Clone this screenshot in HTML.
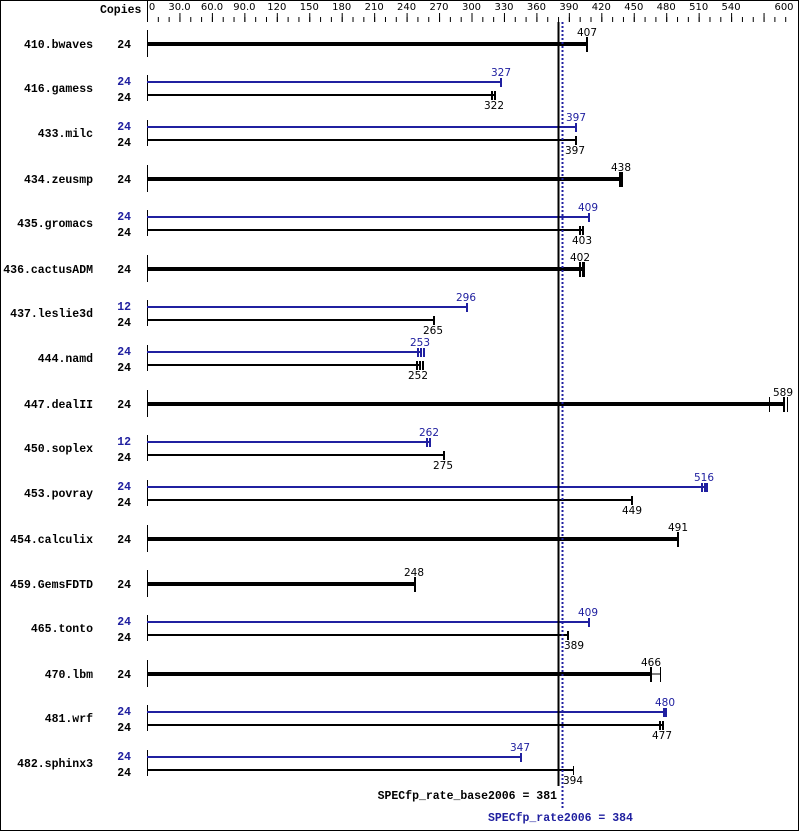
<!DOCTYPE html>
<html><head><meta charset="utf-8"><style>
html,body{margin:0;padding:0;background:#fff}
svg{display:block}
.n{font-family:"Liberation Mono","DejaVu Sans Mono",monospace;font-weight:bold;font-size:11.5px}
.v{font-family:"DejaVu Sans","Liberation Sans",sans-serif;font-size:10.5px}
.ax{font-family:"DejaVu Sans","Liberation Sans",sans-serif;font-size:10px}
</style></head><body>
<svg width="799" height="831" viewBox="0 0 799 831" xmlns="http://www.w3.org/2000/svg">
<rect x="0.5" y="0.5" width="798" height="830" fill="#fff" stroke="#000"/>
<text class="n" x="100" y="13">Copies</text>
<line x1="147.5" y1="0" x2="147.5" y2="22" stroke="#000"/>
<line x1="147" y1="19.5" x2="796" y2="19.5" stroke="#000" stroke-width="5" stroke-dasharray="1 9.817"/>
<line x1="147" y1="17.5" x2="796" y2="17.5" stroke="#000" stroke-width="9" stroke-dasharray="1 31.45"/>
<g class="ax" text-anchor="middle">
<text x="152" y="10">0</text><text x="179.5" y="10">30.0</text><text x="212" y="10">60.0</text><text x="244.4" y="10">90.0</text><text x="276.8" y="10">120</text><text x="309.3" y="10">150</text><text x="341.7" y="10">180</text><text x="374.2" y="10">210</text><text x="406.6" y="10">240</text><text x="439" y="10">270</text><text x="471.5" y="10">300</text><text x="504" y="10">330</text><text x="536.4" y="10">360</text><text x="568.9" y="10">390</text><text x="601.3" y="10">420</text><text x="633.8" y="10">450</text><text x="666.2" y="10">480</text><text x="698.7" y="10">510</text><text x="731.1" y="10">540</text><text x="784" y="10">600</text>
</g>

<g class="n" text-anchor="end">
<text x="93" y="48">410.bwaves</text><text x="131" y="48">24</text>
<text x="93" y="92">416.gamess</text><text x="131" y="85" fill="#2020a0">24</text><text x="131" y="101">24</text>
<text x="93" y="137">433.milc</text><text x="131" y="130" fill="#2020a0">24</text><text x="131" y="146">24</text>
<text x="93" y="183">434.zeusmp</text><text x="131" y="183">24</text>
<text x="93" y="227">435.gromacs</text><text x="131" y="220" fill="#2020a0">24</text><text x="131" y="236">24</text>
<text x="93" y="273">436.cactusADM</text><text x="131" y="273">24</text>
<text x="93" y="317">437.leslie3d</text><text x="131" y="310" fill="#2020a0">12</text><text x="131" y="326">24</text>
<text x="93" y="362">444.namd</text><text x="131" y="355" fill="#2020a0">24</text><text x="131" y="371">24</text>
<text x="93" y="408">447.dealII</text><text x="131" y="408">24</text>
<text x="93" y="452">450.soplex</text><text x="131" y="445" fill="#2020a0">12</text><text x="131" y="461">24</text>
<text x="93" y="497">453.povray</text><text x="131" y="490" fill="#2020a0">24</text><text x="131" y="506">24</text>
<text x="93" y="543">454.calculix</text><text x="131" y="543">24</text>
<text x="93" y="588">459.GemsFDTD</text><text x="131" y="588">24</text>
<text x="93" y="632">465.tonto</text><text x="131" y="625" fill="#2020a0">24</text><text x="131" y="641">24</text>
<text x="93" y="678">470.lbm</text><text x="131" y="678">24</text>
<text x="93" y="722">481.wrf</text><text x="131" y="715" fill="#2020a0">24</text><text x="131" y="731">24</text>
<text x="93" y="767">482.sphinx3</text><text x="131" y="760" fill="#2020a0">24</text><text x="131" y="776">24</text>
</g>

<g stroke="#000">
<line x1="147.5" y1="30" x2="147.5" y2="57"/>
<line x1="147.5" y1="75" x2="147.5" y2="101"/>
<line x1="147.5" y1="120" x2="147.5" y2="146"/>
<line x1="147.5" y1="165" x2="147.5" y2="192"/>
<line x1="147.5" y1="210" x2="147.5" y2="236"/>
<line x1="147.5" y1="255" x2="147.5" y2="282"/>
<line x1="147.5" y1="300" x2="147.5" y2="326"/>
<line x1="147.5" y1="345" x2="147.5" y2="371"/>
<line x1="147.5" y1="390" x2="147.5" y2="417"/>
<line x1="147.5" y1="435" x2="147.5" y2="461"/>
<line x1="147.5" y1="480" x2="147.5" y2="506"/>
<line x1="147.5" y1="525" x2="147.5" y2="552"/>
<line x1="147.5" y1="570" x2="147.5" y2="597"/>
<line x1="147.5" y1="615" x2="147.5" y2="641"/>
<line x1="147.5" y1="660" x2="147.5" y2="687"/>
<line x1="147.5" y1="705" x2="147.5" y2="731"/>
<line x1="147.5" y1="750" x2="147.5" y2="776"/>
</g>

<g stroke="#000" stroke-width="4">
<line x1="147" y1="44" x2="587" y2="44"/>
<line x1="147" y1="179" x2="621" y2="179"/>
<line x1="147" y1="269" x2="582" y2="269"/>
<line x1="147" y1="404" x2="784" y2="404"/>
<line x1="147" y1="539" x2="678" y2="539"/>
<line x1="147" y1="584" x2="415" y2="584"/>
<line x1="147" y1="674" x2="651" y2="674"/>
</g>
<g stroke="#000" stroke-width="2">
<line x1="587" y1="37" x2="587" y2="52"/>
<line x1="620" y1="172" x2="620" y2="187"/><line x1="622" y1="172" x2="622" y2="187"/>
<line x1="580" y1="262" x2="580" y2="277"/><line x1="583" y1="262" x2="583" y2="277"/>
<line x1="784" y1="397" x2="784" y2="412"/>
<line x1="678" y1="532" x2="678" y2="547"/>
<line x1="415" y1="577" x2="415" y2="592"/>
<line x1="651" y1="667" x2="651" y2="682"/>
</g>
<g stroke="#000" stroke-width="1">
<line x1="769.5" y1="397" x2="769.5" y2="412"/><line x1="787.5" y1="397" x2="787.5" y2="412"/>
<line x1="584.5" y1="262" x2="584.5" y2="277"/>
<line x1="660.5" y1="667" x2="660.5" y2="682"/><line x1="651" y1="674" x2="660" y2="674"/>
</g>

<g stroke="#2020a0" stroke-width="2">
<line x1="147" y1="82" x2="501" y2="82"/><line x1="501" y1="78" x2="501" y2="87"/>
<line x1="147" y1="127" x2="576" y2="127"/><line x1="576" y1="123" x2="576" y2="132"/>
<line x1="147" y1="217" x2="589" y2="217"/><line x1="589" y1="213" x2="589" y2="222"/>
<line x1="147" y1="307" x2="467" y2="307"/><line x1="467" y1="303" x2="467" y2="312"/>
<line x1="147" y1="352" x2="421" y2="352"/><line x1="421" y1="348" x2="421" y2="357"/><line x1="418" y1="348" x2="418" y2="357"/><line x1="424" y1="348" x2="424" y2="357"/>
<line x1="147" y1="442" x2="430" y2="442"/><line x1="430" y1="438" x2="430" y2="447"/><line x1="427" y1="438" x2="427" y2="447"/>
<line x1="147" y1="487" x2="705" y2="487"/><line x1="705" y1="483" x2="705" y2="492"/><line x1="702" y1="483" x2="702" y2="492"/><line x1="707" y1="483" x2="707" y2="492"/>
<line x1="147" y1="622" x2="589" y2="622"/><line x1="589" y1="618" x2="589" y2="627"/>
<line x1="147" y1="712" x2="666" y2="712"/><line x1="666" y1="708" x2="666" y2="717"/><line x1="664" y1="708" x2="664" y2="717"/>
<line x1="147" y1="757" x2="522" y2="757"/><line x1="521" y1="753" x2="521" y2="762"/>
</g>
<g stroke="#000" stroke-width="2">
<line x1="147" y1="95" x2="495" y2="95"/><line x1="495" y1="91" x2="495" y2="100"/><line x1="492" y1="91" x2="492" y2="100"/>
<line x1="147" y1="140" x2="576" y2="140"/><line x1="576" y1="136" x2="576" y2="145"/>
<line x1="147" y1="230" x2="583" y2="230"/><line x1="583" y1="226" x2="583" y2="235"/><line x1="580" y1="226" x2="580" y2="235"/>
<line x1="147" y1="320" x2="434" y2="320"/><line x1="434" y1="316" x2="434" y2="325"/>
<line x1="147" y1="365" x2="420" y2="365"/><line x1="420" y1="361" x2="420" y2="370"/><line x1="417" y1="361" x2="417" y2="370"/><line x1="423" y1="361" x2="423" y2="370"/>
<line x1="147" y1="455" x2="444" y2="455"/><line x1="444" y1="451" x2="444" y2="460"/>
<line x1="147" y1="500" x2="632" y2="500"/><line x1="632" y1="496" x2="632" y2="505"/>
<line x1="147" y1="635" x2="568" y2="635"/><line x1="568" y1="631" x2="568" y2="640"/>
<line x1="147" y1="725" x2="663" y2="725"/><line x1="663" y1="721" x2="663" y2="730"/><line x1="660" y1="721" x2="660" y2="730"/>
<line x1="147" y1="770" x2="573" y2="770"/>
</g>
<line x1="573.5" y1="766" x2="573.5" y2="775" stroke="#000"/>

<g class="v" text-anchor="middle">
<text x="587" y="36">407</text>
<text x="621" y="171">438</text>
<text x="580" y="261">402</text>
<text x="783" y="396">589</text>
<text x="678" y="531">491</text>
<text x="414" y="576">248</text>
<text x="651" y="666">466</text>
<text x="494" y="109">322</text>
<text x="575" y="154">397</text>
<text x="582" y="244">403</text>
<text x="433" y="334">265</text>
<text x="418" y="379">252</text>
<text x="443" y="469">275</text>
<text x="632" y="514">449</text>
<text x="574" y="649">389</text>
<text x="662" y="739">477</text>
<text x="573" y="784">394</text>
</g>
<g class="v" text-anchor="middle" fill="#2020a0">
<text x="501" y="76">327</text>
<text x="576" y="121">397</text>
<text x="588" y="211">409</text>
<text x="466" y="301">296</text>
<text x="420" y="346">253</text>
<text x="429" y="436">262</text>
<text x="704" y="481">516</text>
<text x="588" y="616">409</text>
<text x="665" y="706">480</text>
<text x="520" y="751">347</text>
</g>

<line x1="558.5" y1="22" x2="558.5" y2="786" stroke="#000" stroke-width="2"/>
<line x1="562.5" y1="22" x2="562.5" y2="808" stroke="#2020a0" stroke-width="2" stroke-dasharray="2 2"/>
<text class="n" x="557" y="799" text-anchor="end">SPECfp_rate_base2006 = 381</text>
<text class="n" x="488" y="821" fill="#2020a0">SPECfp_rate2006 = 384</text>
</svg>
</body></html>
